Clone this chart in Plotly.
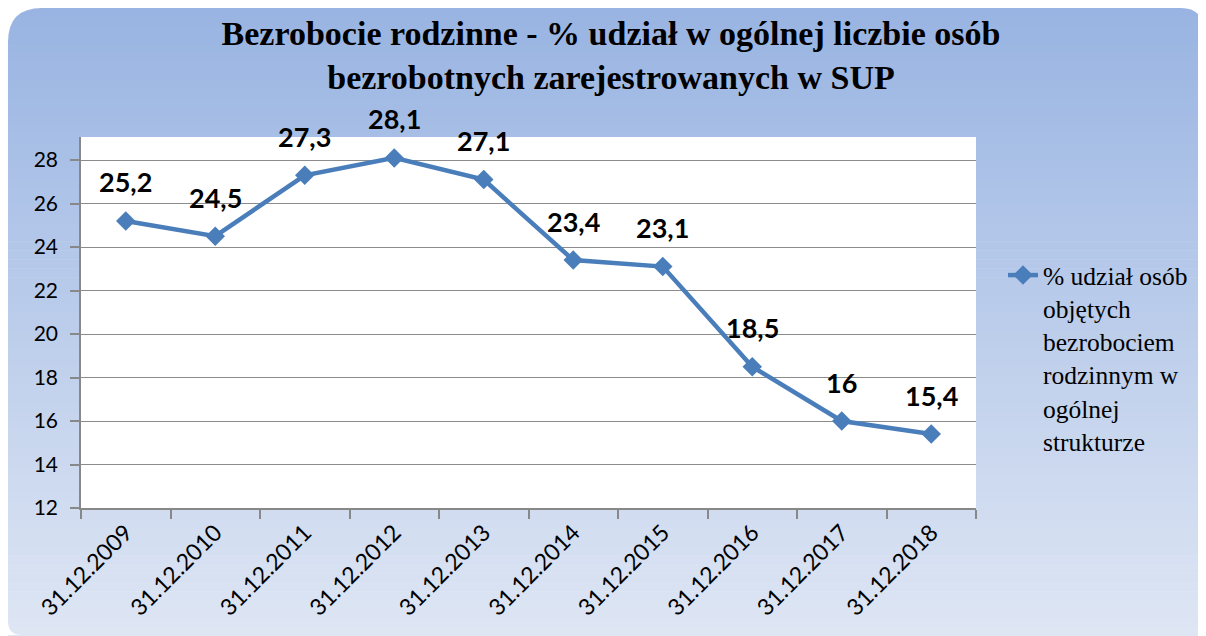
import plotly.graph_objects as go

# --- data ---
dates = ["31.12.2009", "31.12.2010", "31.12.2011", "31.12.2012", "31.12.2013",
         "31.12.2014", "31.12.2015", "31.12.2016", "31.12.2017", "31.12.2018"]
share = [25.2, 24.5, 27.3, 28.1, 27.1, 23.4, 23.1, 18.5, 16, 15.4]
value_labels = ["25,2", "24,5", "27,3", "28,1", "27,1", "23,4", "23,1", "18,5", "16", "15,4"]
y_ticks = [12, 14, 16, 18, 20, 22, 24, 26, 28]
series_name = "% udział osób<br>objętych<br>bezrobociem<br>rodzinnym w<br>ogólnej<br>strukturze"
title_text = ("<b>Bezrobocie rodzinne - % udział w ogólnej liczbie osób<br>"
              "bezrobotnych zarejestrowanych w SUP</b>")

SERIF = "Times New Roman, Liberation Serif, DejaVu Serif, serif"

# the page puts the figure at (8, 8), so work in screen pixels and convert
OFF = 8
W, H = 1198, 628
ML, MR, MT, MB = 73, 230, 129, 128
PW, PH = W - ML - MR, H - MT - MB


def fx(sx):
    return (sx - OFF - ML) / PW


def fy(sy):
    return (H - MB - (sy - OFF)) / PH


def background_shapes():
    """Vertical blue gradient panel with rounded corners, then the white plot area."""
    shapes = []
    x0, x1, y0, y1 = 8, 1206, 8, 636
    top, bottom = (152, 180, 226), (223, 230, 244)
    n = 70
    for i in range(n):
        t = (i + 0.5) / n
        c = [round(top[k] + (bottom[k] - top[k]) * t) for k in range(3)]
        ya = y0 + (y1 - y0) * i / n
        yb = y0 + (y1 - y0) * (i + 1) / n + 0.6
        shapes.append(dict(type="rect", xref="paper", yref="paper", layer="below",
                           x0=fx(x0), x1=fx(x1), y0=fy(yb), y1=fy(ya),
                           fillcolor="rgb(%d,%d,%d)" % tuple(c), line_width=0))

    def corner(cx, cy, dx, dy, r):
        # white mask outside a rounded corner
        p = "M %f,%f L %f,%f Q %f,%f %f,%f Z" % (
            fx(cx), fy(cy), fx(cx + dx * r), fy(cy),
            fx(cx), fy(cy), fx(cx), fy(cy + dy * r))
        return dict(type="path", xref="paper", yref="paper", layer="below",
                    path=p, fillcolor="white", line_width=0)

    shapes.append(corner(x0, y0, 1, 1, 34))
    shapes.append(corner(1203, y0, -1, 1, 22))
    shapes.append(corner(x0, 635, 1, -1, 14))
    shapes.append(dict(type="rect", xref="paper", yref="paper", layer="below",
                       x0=0, x1=1, y0=0, y1=1, fillcolor="white", line_width=0))
    return shapes


fig = go.Figure()
fig.add_trace(go.Scatter(
    x=dates, y=share, name=series_name, mode="lines+markers",
    line=dict(color="#4A7EBB", width=4.5),
    marker=dict(symbol="diamond", size=15, color="#4A7EBB"),
    showlegend=True,
))

for d, v, lab in zip(dates, share, value_labels):
    fig.add_annotation(x=d, y=v, text=lab, showarrow=False, yshift=39,
                       font=dict(family="Lato", size=27, color="black", weight="bold"))

fig.update_layout(
    width=W, height=H,
    margin=dict(l=ML, r=MR, t=MT, b=MB),
    paper_bgcolor="white", plot_bgcolor="white",
    title=dict(text=title_text, x=(611 - OFF) / W, xanchor="center",
               y=1 - 37 / H, yanchor="middle",
               font=dict(family=SERIF, size=34, color="black")),
    legend=dict(x=fx(1003), y=fy(252), xanchor="left", yanchor="top",
                bgcolor="rgba(0,0,0,0)", valign="top",
                font=dict(family=SERIF, size=25.5, color="black")),
    shapes=background_shapes(),
)

fig.update_xaxes(type="category", range=[-0.5, len(dates) - 0.5],
                 tickson="boundaries", ticks="outside", ticklen=9, tickwidth=2,
                 tickcolor="#888888", showline=True, linecolor="#888888", linewidth=2,
                 showgrid=False, tickangle=-45,
                 tickfont=dict(family="Lato", size=23, color="black"))
fig.update_yaxes(range=[12, 29.06], tickvals=y_ticks, ticks="outside", ticklen=9,
                 tickwidth=1.5, tickcolor="#888888", showline=True, linecolor="#888888",
                 linewidth=1.5, showgrid=True, gridcolor="#8c8c8c", gridwidth=1.3,
                 zeroline=False, ticklabelstandoff=8,
                 tickfont=dict(family="Lato", size=21, color="black"))

fig.write_html("out.html")
